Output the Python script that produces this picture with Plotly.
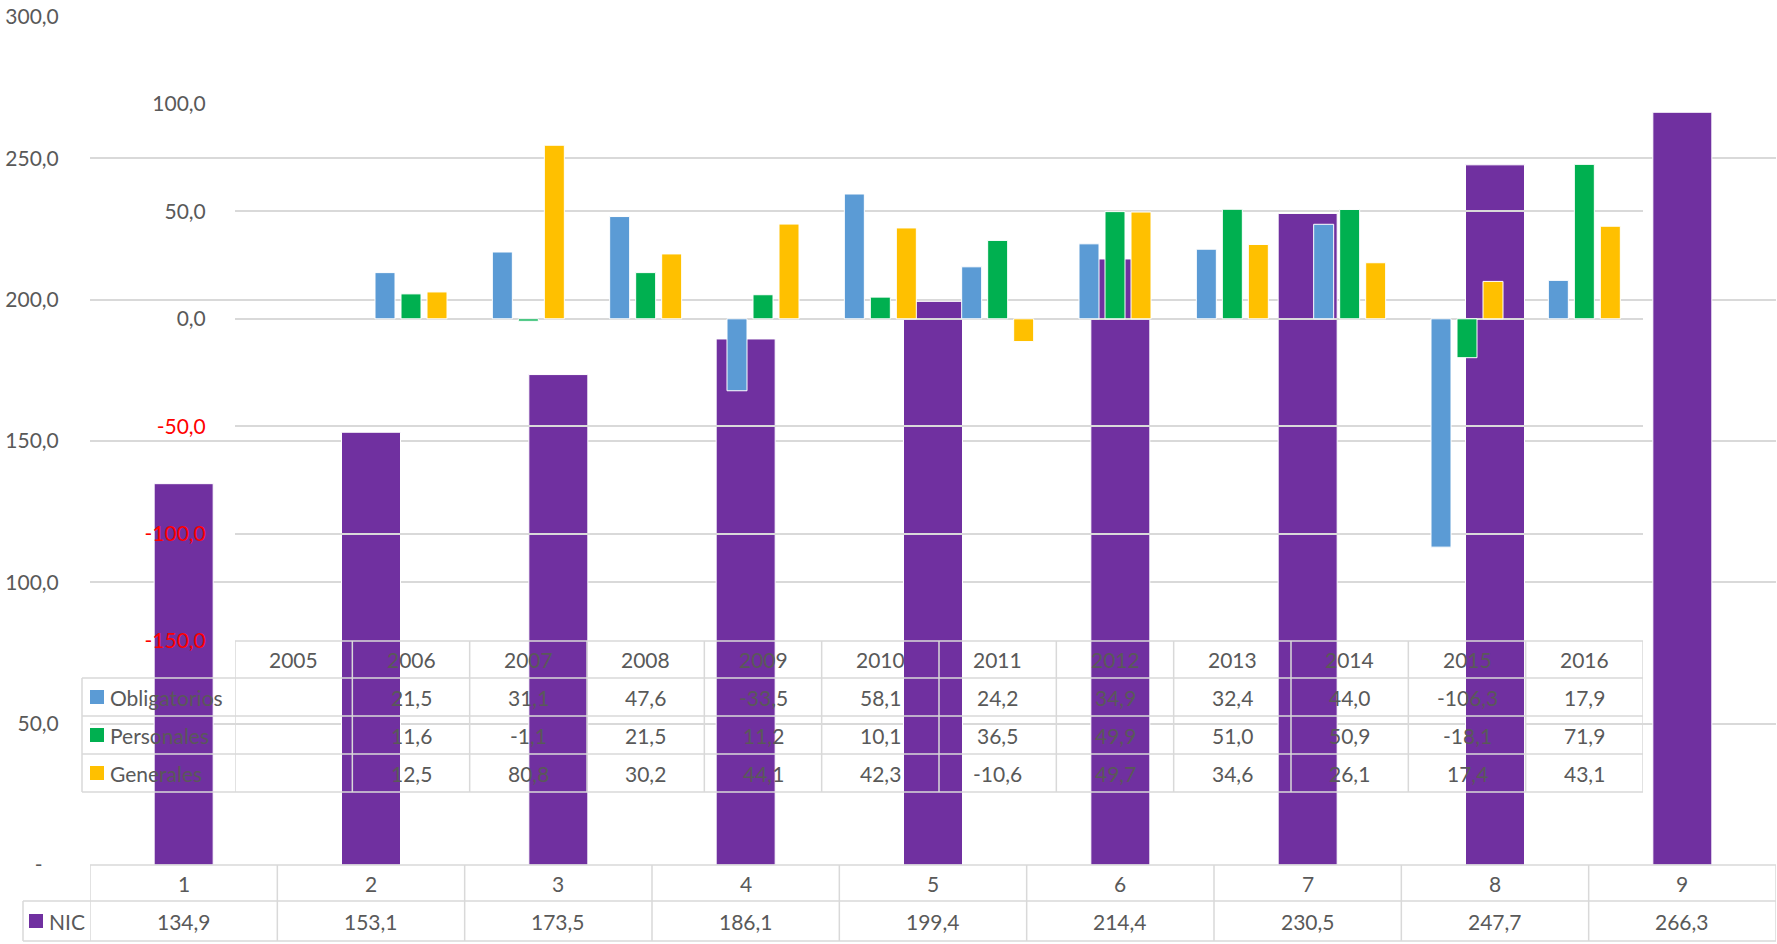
import plotly.graph_objects as go

W, H = 1777, 944

# ---------------- data ----------------
years = ["2005", "2006", "2007", "2008", "2009", "2010", "2011", "2012",
         "2013", "2014", "2015", "2016"]
obligatorios = [None, 21.5, 31.1, 47.6, -33.5, 58.1, 24.2, 34.9, 32.4, 44.0, -106.3, 17.9]
personales = [None, 11.6, -1.1, 21.5, 11.2, 10.1, 36.5, 49.9, 51.0, 50.9, -18.1, 71.9]
generales = [None, 12.5, 80.8, 30.2, 44.1, 42.3, -10.6, 49.7, 34.6, 26.1, 17.4, 43.1]

nic_cats = ["1", "2", "3", "4", "5", "6", "7", "8", "9"]
nic = [134.9, 153.1, 173.5, 186.1, 199.4, 214.4, 230.5, 247.7, 266.3]

outer_ticks = [0, 50, 100, 150, 200, 250, 300]
inner_ticks = [-150, -100, -50, 0, 50, 100]

series_names = ["Obligatorios", "Personales", "Generales"]
series_colors = ["#5B9BD5", "#00B050", "#FFC000"]
nic_color = "#7030A0"

TXT = "#595959"
GRID = "#D9D9D9"
FONT = "Lato"
FS = 21


def fmt(v):
    return f"{v:.1f}".replace(".", ",")


def px(x):
    return x / W


def py(y):
    return 1 - y / H


# ---------------- layout geometry (pixels) ----------------
OUT_L, OUT_R, OUT_T, OUT_B = 90, 1776, 17, 865
IN_L, IN_R, IN_T, IN_B = 235, 1643, 104, 641

fig = go.Figure()

# outer chart: NIC
nic_w = 0.315
fig.add_trace(go.Bar(
    x=nic_cats, y=nic, name="NIC", xaxis="x", yaxis="y",
    width=nic_w, offset=-nic_w / 2,
    marker=dict(color=nic_color, line=dict(color="white", width=1)),
    showlegend=False,
))

# inner chart: three series
bw = 0.1705
slot = 0.2216
for k, (name, vals, col) in enumerate(zip(series_names,
                                          [obligatorios, personales, generales],
                                          series_colors)):
    fig.add_trace(go.Bar(
        x=years, y=vals, name=name, xaxis="x2", yaxis="y2",
        width=bw, offset=(k - 1) * slot - bw / 2,
        marker=dict(color=col, line=dict(color="white", width=1)),
        showlegend=False,
    ))

outer_text = ["-\u00a0\u00a0\u00a0"] + [fmt(v) for v in outer_ticks[1:]]
inner_text = []
for v in inner_ticks:
    if v < 0:
        inner_text.append(f"<span style='color:#FF0000'>{fmt(v)}</span>")
    else:
        inner_text.append(fmt(v))

fig.update_layout(
    template="none",
    width=W, height=H,
    autosize=False,
    margin=dict(l=0, r=0, t=0, b=0, pad=0, autoexpand=False),
    paper_bgcolor="white",
    plot_bgcolor="rgba(0,0,0,0)",
    barmode="overlay",
    font=dict(family=FONT, size=FS, color=TXT),
    xaxis=dict(domain=[px(OUT_L), px(OUT_R)], anchor="y", type="category",
               range=[-0.5, len(nic_cats) - 0.5], showticklabels=False, automargin=False,
               showgrid=False, zeroline=False, showline=False, ticks="", fixedrange=True),
    yaxis=dict(domain=[py(OUT_B), py(OUT_T)], anchor="x", range=[0, 300],
               tickvals=outer_ticks, ticktext=outer_text, automargin=False,
               showgrid=True, gridcolor=GRID, gridwidth=1.5, zeroline=False,
               showline=False, ticks="outside", ticklen=26,
               tickcolor="rgba(0,0,0,0)", tickfont=dict(family=FONT, size=FS, color=TXT)),
    xaxis2=dict(domain=[px(IN_L), px(IN_R)], anchor="y2", type="category",
                range=[-0.5, len(years) - 0.5], showticklabels=False, automargin=False,
                showgrid=False, zeroline=False, showline=False, ticks="", fixedrange=True),
    yaxis2=dict(domain=[py(IN_B), py(IN_T)], anchor="x2", range=[-150, 100],
                tickvals=inner_ticks, ticktext=inner_text, automargin=False,
                showgrid=True, gridcolor=GRID, gridwidth=1.5, zeroline=False,
                showline=False, ticks="outside", ticklen=24,
                tickcolor="rgba(0,0,0,0)", tickfont=dict(family=FONT, size=FS, color=TXT)),
)

shapes = []
annotations = []
LINE = dict(color=GRID, width=1.5)

# ---------------- inner data table ----------------
in_rows = [641, 678, 716, 754, 792]
LEG_L = 82
shapes.append(dict(type="line", xref="paper", yref="paper",
                   x0=px(IN_L), x1=px(IN_R), y0=py(in_rows[0]), y1=py(in_rows[0]),
                   line=LINE, layer="above"))
for r in in_rows[1:]:
    shapes.append(dict(type="line", xref="paper", yref="paper",
                       x0=px(LEG_L), x1=px(IN_R), y0=py(r), y1=py(r),
                       line=LINE, layer="above"))
for j in range(len(years) + 1):
    shapes.append(dict(type="line", xref="x2", yref="paper",
                       x0=j - 0.5, x1=j - 0.5, y0=py(in_rows[0]), y1=py(in_rows[-1]),
                       line=LINE, layer="above"))
shapes.append(dict(type="line", xref="paper", yref="paper",
                   x0=px(LEG_L), x1=px(LEG_L), y0=py(in_rows[1]), y1=py(in_rows[-1]),
                   line=LINE, layer="above"))

hdr_c = (in_rows[0] + in_rows[1]) / 2
for j, yr in enumerate(years):
    annotations.append(dict(x=j, xref="x2", y=py(hdr_c), yref="paper",
                            text=yr, showarrow=False, xanchor="center", yanchor="middle"))
for k, (name, vals, col) in enumerate(zip(series_names,
                                          [obligatorios, personales, generales],
                                          series_colors)):
    rc = (in_rows[k + 1] + in_rows[k + 2]) / 2
    shapes.append(dict(type="rect", xref="paper", yref="paper",
                       x0=px(90), x1=px(104), y0=py(rc - 7), y1=py(rc + 7),
                       fillcolor=col, line=dict(width=0), layer="above"))
    annotations.append(dict(x=px(108), xref="paper", y=py(rc), yref="paper",
                            text=name, showarrow=False, xanchor="left", yanchor="middle"))
    for j, v in enumerate(vals):
        if v is None:
            continue
        annotations.append(dict(x=j, xref="x2", y=py(rc), yref="paper",
                                text=fmt(v), showarrow=False,
                                xanchor="center", yanchor="middle"))

# ---------------- outer data table ----------------
out_rows = [865, 901, 941]
NIC_L = 23
shapes.append(dict(type="line", xref="paper", yref="paper",
                   x0=px(OUT_L), x1=px(OUT_R), y0=py(out_rows[0]), y1=py(out_rows[0]),
                   line=LINE, layer="above"))
for r in out_rows[1:]:
    shapes.append(dict(type="line", xref="paper", yref="paper",
                       x0=px(NIC_L), x1=px(OUT_R), y0=py(r), y1=py(r),
                       line=LINE, layer="above"))
for j in range(len(nic_cats) + 1):
    shapes.append(dict(type="line", xref="x", yref="paper",
                       x0=j - 0.5, x1=j - 0.5, y0=py(out_rows[0]), y1=py(out_rows[-1]),
                       line=LINE, layer="above"))
shapes.append(dict(type="line", xref="paper", yref="paper",
                   x0=px(NIC_L), x1=px(NIC_L), y0=py(out_rows[1]), y1=py(out_rows[-1]),
                   line=LINE, layer="above"))

oh_c = (out_rows[0] + out_rows[1]) / 2
on_c = (out_rows[1] + out_rows[2]) / 2
for j, c in enumerate(nic_cats):
    annotations.append(dict(x=j, xref="x", y=py(oh_c), yref="paper",
                            text=c, showarrow=False, xanchor="center", yanchor="middle"))
    annotations.append(dict(x=j, xref="x", y=py(on_c), yref="paper",
                            text=fmt(nic[j]), showarrow=False,
                            xanchor="center", yanchor="middle"))
shapes.append(dict(type="rect", xref="paper", yref="paper",
                   x0=px(29), x1=px(43), y0=py(on_c - 7), y1=py(on_c + 7),
                   fillcolor=nic_color, line=dict(width=0), layer="above"))
annotations.append(dict(x=px(47), xref="paper", y=py(on_c), yref="paper",
                        text="NIC", showarrow=False, xanchor="left", yanchor="middle"))

fig.update_layout(shapes=shapes, annotations=annotations)

fig.write_html("out.html",
               config={"displayModeBar": False},
               post_script="document.body.style.margin='0';document.body.style.overflow='hidden';")
